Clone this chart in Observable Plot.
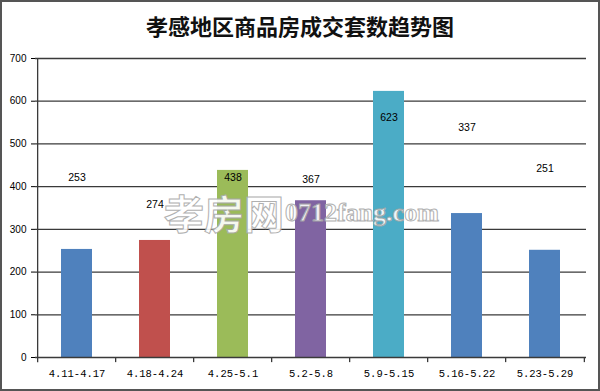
<!DOCTYPE html>
<html><head><meta charset="utf-8">
<script src="https://cdn.jsdelivr.net/npm/d3@7"></script>
<script src="https://cdn.jsdelivr.net/npm/@observablehq/plot@0.6"></script>
<style>
body{margin:0;background:#fff}
#wrap{position:relative;width:600px;height:391px;box-sizing:border-box;border:2px solid #555;background:#fff;overflow:hidden}
#title{height:43px;line-height:47px;text-align:center;font-family:"Noto Sans CJK SC";font-weight:bold;font-size:22px;color:#111;white-space:nowrap}
#chart svg{display:block}
#chart [aria-label^="x-axis"] text{font-family:"Liberation Mono",monospace;font-size:10.5px;fill:#000}
#chart [aria-label^="y-axis"] text{font-family:"Liberation Sans",Arial,sans-serif;font-size:10px;fill:#000}
.wm{position:absolute;color:#fff;-webkit-text-stroke:1px #a8a8a8;opacity:0.9;line-height:1;white-space:nowrap;pointer-events:none}
#wm1{left:162px;top:190px;font-family:"Noto Sans CJK SC";font-weight:bold;font-size:40px}
#wm2{left:283px;top:198px;font-family:"Liberation Serif",serif;font-weight:bold;font-size:26px}
</style>
</head><body>
<div id="wrap">
  <div id="title">孝感地区商品房成交套数趋势图</div>
  <div id="chart"></div>
  <div class="wm" id="wm1">孝房网</div>
  <div class="wm" id="wm2">0712fang.com</div>
</div>
<script>
const categories = ["4.11-4.17","4.18-4.24","4.25-5.1","5.2-5.8","5.9-5.15","5.16-5.22","5.23-5.29"];
const values = [253, 274, 438, 367, 623, 337, 251];
const labelPos = [421, 358, 421, 416, 561, 537, 443];
const yTicks = [0, 100, 200, 300, 400, 500, 600, 700];
const barColors = ["#4F81BD","#C0504D","#9BBB59","#8064A2","#4BACC6","#4F81BD","#4F81BD"];

const data = categories.map((c, i) => ({cat: c, value: values[i], pos: labelPos[i], color: barColors[i]}));

const W = 596, H = 344, mL = 33, mR = 12, mT = 13, mB = 32;
const step = (W - mL - mR) / categories.length;

const plot = Plot.plot({
  width: W, height: H,
  marginLeft: mL, marginRight: mR, marginTop: mT, marginBottom: mB,
  style: {background: "transparent", fontFamily: "Liberation Sans, Arial, sans-serif"},
  x: {domain: categories, paddingInner: 0.6, paddingOuter: 0.3, label: null, tickSize: 0, tickPadding: 12},
  y: {domain: [0, 700], ticks: yTicks, label: null, tickSize: 4, tickPadding: 5},
  marks: [
    Plot.ruleY(yTicks.filter(t => t > 0), {stroke: "#3a3a3a", strokeWidth: 1.3}),
    Plot.barY(data, {x: "cat", y: "value", fill: "color"}),
    Plot.ruleY([0], {stroke: "#3a3a3a", strokeWidth: 1.3}),
    Plot.ruleX(data, {x: "cat", y1: -12, y2: (d, i) => i === 0 ? 700 : 0, dx: -step / 2, stroke: "#3a3a3a", strokeWidth: 1.3, clip: false}),
    Plot.ruleX([data[data.length - 1]], {x: "cat", y1: -12, y2: 0, dx: step / 2, stroke: "#3a3a3a", strokeWidth: 1.3}),
    Plot.text(data, {x: "cat", y: "pos", text: d => String(d.value), fill: "#000", fontSize: 10.5, fontFamily: "Liberation Sans, Arial, sans-serif"})
  ]
});
document.getElementById("chart").appendChild(plot);
</script>
</body></html>
